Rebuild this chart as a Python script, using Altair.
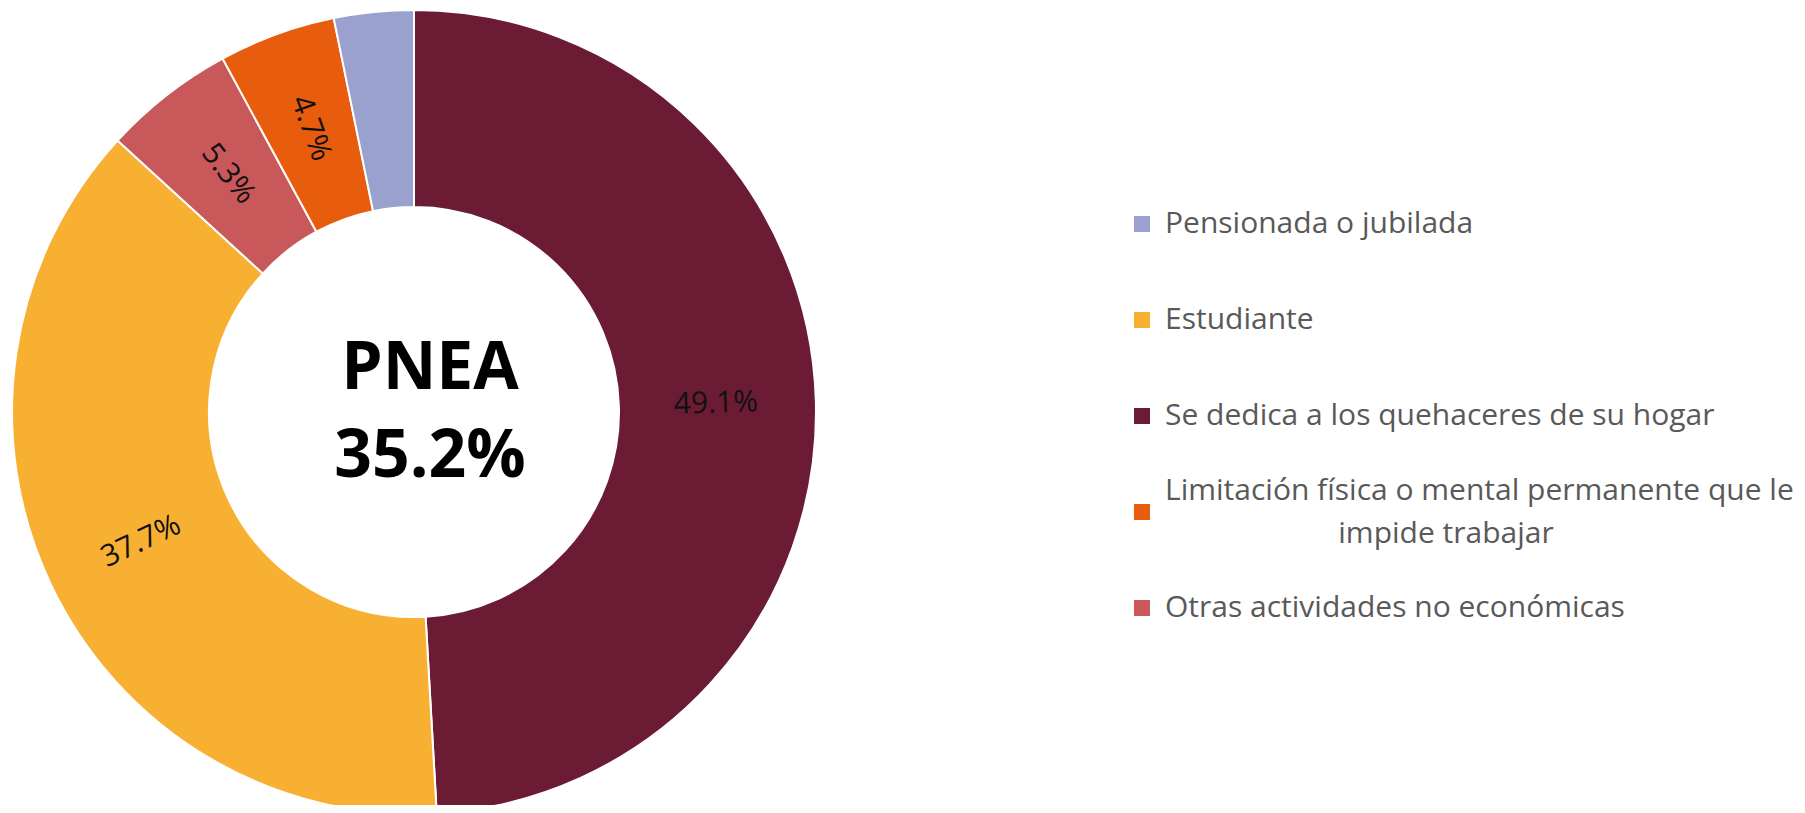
import altair as alt
import pandas as pd

# ---- data ----
categorias = [
    "Se dedica a los quehaceres de su hogar",
    "Estudiante",
    "Otras actividades no económicas",
    "Limitación física o mental permanente que le impide trabajar",
    "Pensionada o jubilada",
]
porcentajes = [49.1, 37.7, 5.3, 4.7, 3.2]
etiquetas = ["49.1%", "37.7%", "5.3%", "4.7%", ""]
orden_leyenda = [
    "Pensionada o jubilada",
    "Estudiante",
    "Se dedica a los quehaceres de su hogar",
    "Limitación física o mental permanente que le impide trabajar",
    "Otras actividades no económicas",
]
colores_leyenda = ["#9AA1CF", "#F7B032", "#6B1C34", "#E85C0D", "#C8585A"]
largo = "Limitación física o mental permanente que le impide trabajar"
largo_lineas = ["Limitación física o mental permanente que le", "impide trabajar"]
texto_centro = ["PNEA", "35.2%"]

df = pd.DataFrame({"categoria": categorias, "valor": porcentajes, "etiqueta": etiquetas})
df["orden"] = range(len(df))
cum = df["valor"].cumsum()
mid = (cum - df["valor"] / 2) / df["valor"].sum() * 360
rot = (mid + 90) % 360
rot = rot.where(~((rot > 90) & (rot < 270)), rot - 180) % 360
df["rot"] = rot

leg_df = pd.DataFrame({"categoria": orden_leyenda, "fila": range(len(orden_leyenda))})
leg_df["linea1"] = [largo_lineas[0] if c == largo else c for c in orden_leyenda]
leg_df["linea2"] = [largo_lineas[1] if c == largo else "" for c in orden_leyenda]

cx, cy = 406, 404
color_scale = alt.Scale(domain=orden_leyenda, range=colores_leyenda)
y_leg = alt.Y("fila:Q", scale=alt.Scale(domain=[0, 4], range=[216, 600]), axis=None)

base = alt.Chart(df).encode(
    theta=alt.Theta("valor:Q", stack=True),
    order=alt.Order("orden:Q"),
    x=alt.value(cx),
    y=alt.value(cy),
)

arcs = base.mark_arc(innerRadius=205, outerRadius=402, stroke="white", strokeWidth=2).encode(
    color=alt.Color("categoria:N", scale=color_scale, legend=None),
)

labels = base.mark_text(radius=302, fontSize=30, font="Open Sans", color="#111111").encode(
    text="etiqueta:N",
    angle=alt.Angle("rot:Q", scale=None),
    detail="categoria:N",
)

centro_df = pd.DataFrame({"t": ["\n".join(texto_centro)]})
centro = alt.Chart(centro_df).mark_text(
    fontSize=66, font="Open Sans", fontWeight="bold", color="black",
    lineBreak="\n", lineHeight=88, align="center", baseline="middle",
).encode(text="t:N", x=alt.value(cx + 16), y=alt.value(cy - 43))

leg_base = alt.Chart(leg_df)
leg_sq = leg_base.mark_square(size=256, opacity=1, filled=True).encode(
    x=alt.value(1134), y=y_leg,
    color=alt.Color("categoria:N", scale=color_scale, legend=None),
)
txt_style = dict(fontSize=30, font="Open Sans", color="#595959", baseline="middle")
leg_txt = leg_base.transform_filter(alt.datum.linea2 == "").mark_text(
    align="left", **txt_style
).encode(x=alt.value(1157), y=y_leg, text="linea1:N")
leg_l1 = leg_base.transform_filter(alt.datum.linea2 != "").mark_text(
    align="left", dy=-21, **txt_style
).encode(x=alt.value(1157), y=y_leg, text="linea1:N")
leg_l2 = leg_base.transform_filter(alt.datum.linea2 != "").mark_text(
    align="center", dy=22, **txt_style
).encode(x=alt.value(1438), y=y_leg, text="linea2:N")

chart = alt.layer(arcs, labels, centro, leg_sq, leg_txt, leg_l1, leg_l2).properties(
    width=1789, height=797, autosize=alt.AutoSizeParams(type="none"), padding=0
).configure_view(stroke=None)

chart.save("out.html", embed_options={"renderer": "svg", "actions": False})
